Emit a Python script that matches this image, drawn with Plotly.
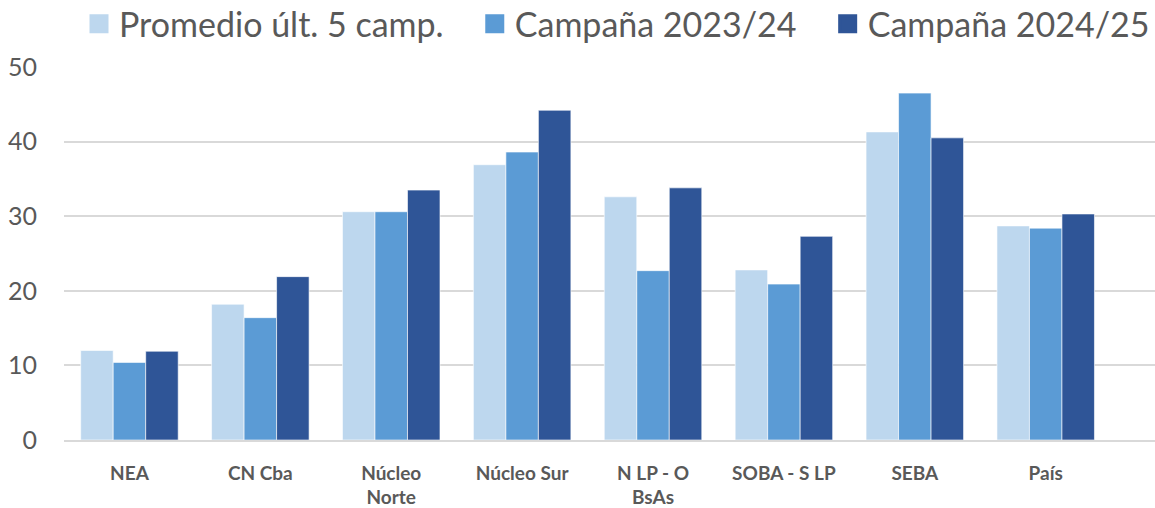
import plotly.graph_objects as go

regiones = ["NEA", "CN Cba", "Núcleo<br>Norte", "Núcleo Sur", "N LP - O<br>BsAs",
            "SOBA - S LP", "SEBA", "País"]
promedio_5 = [12.0, 18.2, 30.6, 36.9, 32.6, 22.8, 41.3, 28.7]
campana_2324 = [10.4, 16.4, 30.6, 38.6, 22.7, 20.9, 46.5, 28.4]
campana_2425 = [11.9, 21.9, 33.5, 44.2, 33.8, 27.3, 40.5, 30.3]

series = [
    ("Promedio últ. 5 camp.", promedio_5, "#BDD7EE"),
    ("Campaña 2023/24", campana_2324, "#5B9BD5"),
    ("Campaña 2024/25", campana_2425, "#2F5597"),
]

fig = go.Figure()
for nombre, valores, color in series:
    fig.add_trace(go.Bar(
        x=regiones, y=valores, name=nombre, showlegend=False,
        marker=dict(color=color, line=dict(color="rgba(255,255,255,0.6)", width=1)),
    ))
# swatches grandes para la leyenda (espacios duros para separar items)
for i, (nombre, valores, color) in enumerate(series):
    pad = "\u00a0" * 3 if i < len(series) - 1 else ""
    fig.add_trace(go.Scatter(
        x=[None], y=[None], name=nombre + pad, mode="markers",
        marker=dict(symbol="square", size=16, color=color, line=dict(color=color, width=3)),
    ))

fig.update_layout(
    width=1155, height=508,
    margin=dict(l=64, r=0, t=67, b=68, autoexpand=False),
    barmode="group", bargap=0.255, bargroupgap=0,
    plot_bgcolor="white", paper_bgcolor="white",
    font=dict(family="Lato, sans-serif", color="#595959"),
    legend=dict(
        orientation="h", x=1.0, xanchor="right", y=1.115, yanchor="middle",
        font=dict(size=34, color="#595959"), itemwidth=30,
        traceorder="normal",
    ),
    yaxis=dict(
        range=[0, 50], dtick=10, showgrid=True, gridcolor="#D9D9D9", gridwidth=1.5,
        zeroline=False, tickfont=dict(size=25, color="#595959"), ticks="", ticklabelstandoff=26,
    ),
    xaxis=dict(
        range=[-0.5, 7.835],
        showline=True, linecolor="#D9D9D9", linewidth=1.5,
        tickfont=dict(size=19, color="#595959", weight="bold"), ticks="",
        ticklabelstandoff=15,
    ),
)

fig.write_html("out.html", config={"displayModeBar": False},
               post_script="document.body.style.margin = '0';")
